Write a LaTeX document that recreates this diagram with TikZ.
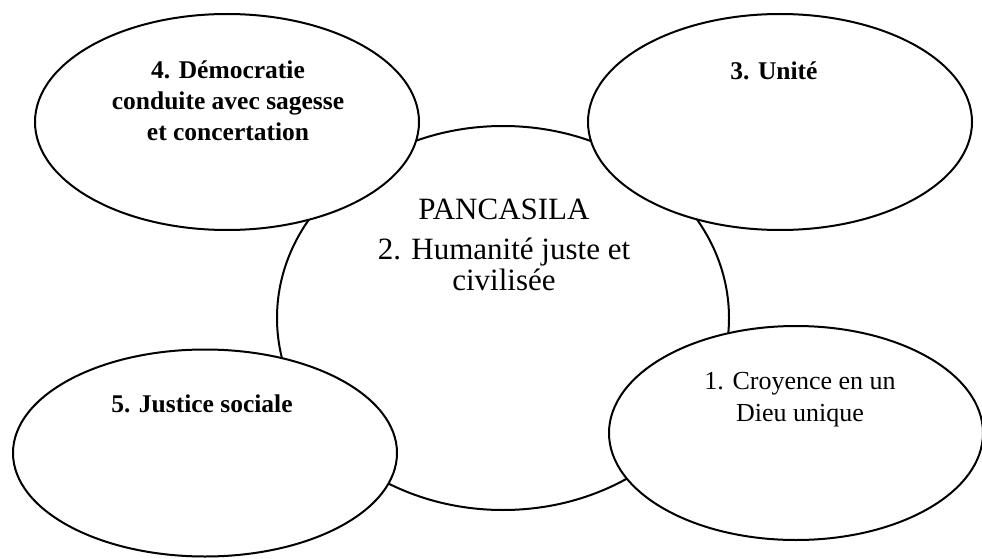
\documentclass[tikz,border=0pt]{standalone}
\usepackage{fontspec}
\setmainfont{Liberation Serif}
\usetikzlibrary{shapes.geometric}
\begin{document}
\begin{tikzpicture}[x=1pt,y=-1pt,
  blob/.style={draw=black, fill=white, ellipse, line width=2pt, inner sep=0pt},
  boldlbl/.style={font=\fontsize{25.5}{31}\selectfont\bfseries, align=center, inner sep=0pt, anchor=base},
  centrelbl/.style={font=\fontsize{31}{35}\selectfont, align=center, inner sep=0pt, anchor=base},
  plainlbl/.style={font=\fontsize{26}{32}\selectfont, align=center, inner sep=0pt, anchor=base}]
\useasboundingbox (0,0) rectangle (982,559);
\node[blob, minimum width=452pt, minimum height=384pt] (centre) at (503,318) {};
\node[blob, minimum width=384pt, minimum height=216pt] (democratie) at (227,122) {};
\node[blob, minimum width=384pt, minimum height=216pt] (unite) at (780,122) {};
\node[blob, minimum width=384pt, minimum height=207pt] (justice) at (205,453) {};
\node[blob, minimum width=374pt, minimum height=214pt] (croyance) at (796,433) {};
\node[centrelbl] (tcentre) at (504,290) {PANCASILA\\[5pt]2. Humanité juste et\\[-4pt]civilisée};
\node[boldlbl] (tdemo) at (228,140) {4. Démocratie\\conduite avec sagesse\\et concertation};
\node[boldlbl] (tunite) at (774,80) {3. Unité};
\node[boldlbl] (tjustice) at (202,412) {5. Justice sociale};
\node[plainlbl] (tcroy) at (800,421) {1. Croyence en un\\Dieu unique};
\end{tikzpicture}
\end{document}
